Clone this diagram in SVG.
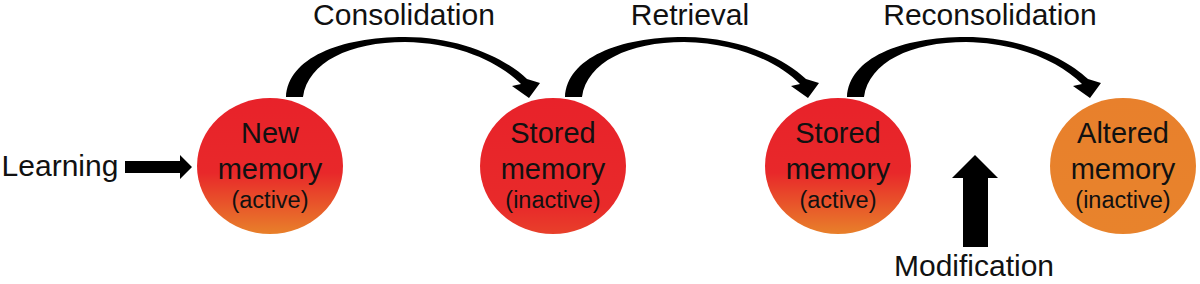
<svg xmlns="http://www.w3.org/2000/svg" width="1200" height="284" viewBox="0 0 1200 284">
<style>
text{font-family:"Liberation Sans",Arial,sans-serif;text-anchor:middle;fill:#111}
.lbl{font-size:30px}
.big{font-size:29px}
.small{font-size:23.5px}
.arc{fill:#000}
</style>
<defs>
<linearGradient id="ro" x1="0" y1="0" x2="0" y2="1">
<stop offset="0" stop-color="#e8222a"/>
<stop offset="0.55" stop-color="#e8282a"/>
<stop offset="1" stop-color="#e8802a"/>
</linearGradient>
<linearGradient id="rr" x1="0" y1="0" x2="0" y2="1">
<stop offset="0" stop-color="#e8222a"/>
<stop offset="0.8" stop-color="#e82a2a"/>
<stop offset="1" stop-color="#e8402a"/>
</linearGradient>
<linearGradient id="oo" x1="0" y1="0" x2="0" y2="1">
<stop offset="0" stop-color="#e8802c"/>
<stop offset="1" stop-color="#e8832c"/>
</linearGradient>
<path id="curve" d="M 286 97 C 288 58, 340 37, 405 37 C 460 37, 505 58, 527 79 L 540 83 L 529 98 L 512 86 L 521 84 C 500 63, 460 43, 405 42 C 350 42, 308 62, 303 97 Z"/>
</defs>
<g id="connectors">
<use href="#curve" class="arc"/>
<use href="#curve" class="arc" transform="translate(279,0)"/>
<use href="#curve" class="arc" transform="translate(561,0)"/>
<path id="learning-arrow" d="M 125 161 L 180 161 L 180 155 L 192 167 L 180 179 L 180 173 L 125 173 Z" fill="#000"/>
<path id="modification-arrow" d="M 963 247 L 963 178 L 952 178 L 975 155 L 998 178 L 988 178 L 988 247 Z" fill="#000"/>
</g>
<g id="label-consolidation"><text class="lbl" x="404" y="25">Consolidation</text></g>
<g id="label-retrieval"><text class="lbl" x="690" y="25">Retrieval</text></g>
<g id="label-reconsolidation"><text class="lbl" x="990" y="25">Reconsolidation</text></g>
<g id="label-learning"><text class="lbl" x="60" y="176">Learning</text></g>
<g id="label-modification"><text class="lbl" x="974" y="276">Modification</text></g>
<g id="node-new">
<ellipse cx="270" cy="166" rx="73" ry="68" fill="url(#ro)"/>
<text class="big" x="270" y="143">New</text>
<text class="big" x="270" y="179">memory</text>
<text class="small" x="270" y="208">(active)</text>
</g>
<g id="node-stored-inactive">
<ellipse cx="553" cy="166" rx="73" ry="68" fill="url(#rr)"/>
<text class="big" x="553" y="143">Stored</text>
<text class="big" x="553" y="179">memory</text>
<text class="small" x="553" y="208">(inactive)</text>
</g>
<g id="node-stored-active">
<ellipse cx="838" cy="166" rx="73" ry="68" fill="url(#ro)"/>
<text class="big" x="838" y="143">Stored</text>
<text class="big" x="838" y="179">memory</text>
<text class="small" x="838" y="208">(active)</text>
</g>
<g id="node-altered">
<ellipse cx="1123" cy="166" rx="73" ry="68" fill="url(#oo)"/>
<text class="big" x="1123" y="143">Altered</text>
<text class="big" x="1123" y="179">memory</text>
<text class="small" x="1123" y="208">(inactive)</text>
</g>
</svg>
